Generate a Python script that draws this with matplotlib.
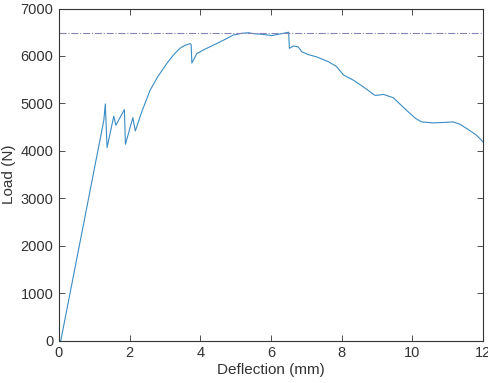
import numpy as np
import matplotlib
matplotlib.use('Agg')
import matplotlib.pyplot as plt

plt.rcParams['font.family'] = ['Liberation Sans', 'DejaVu Sans']

# load-deflection readings
deflection = [0.0, 0.05, 1.27, 1.31, 1.36, 1.55, 1.61, 1.85, 1.88, 2.09, 2.16,
              2.35, 2.58, 2.80, 3.05, 3.25, 3.42, 3.55, 3.71, 3.74, 3.76, 3.90,
              4.15, 4.46, 4.70, 4.93, 5.15, 5.36, 5.50, 5.75, 6.02, 6.30, 6.50,
              6.52, 6.63, 6.77, 6.87, 7.05, 7.29, 7.62, 7.85, 8.05, 8.33, 8.61,
              8.94, 9.05, 9.18, 9.46, 9.70, 9.93, 10.10, 10.26, 10.60, 10.90,
              11.16, 11.35, 11.54, 11.80, 12.0]
load = [0, 0, 4650, 4990, 4070, 4730, 4540, 4870, 4140, 4700, 4420,
        4840, 5280, 5570, 5840, 6030, 6160, 6220, 6260, 6240, 5850, 6050,
        6150, 6260, 6350, 6440, 6475, 6490, 6470, 6455, 6430, 6470, 6500,
        6160, 6210, 6190, 6090, 6030, 5980, 5880, 5780, 5600, 5490, 5350,
        5170, 5175, 5190, 5120, 4950, 4790, 4680, 4610, 4590, 4600,
        4610, 4560, 4470, 4340, 4190]
peak_load = 6490

fig = plt.figure(figsize=(4.88, 3.83), dpi=100)
ax = fig.add_axes([0.1209, 0.1104, 0.8689, 0.8674])

ax.plot(deflection, load, color='#3a8cc4', linewidth=0.8)
ax.axhline(peak_load, color='#8585b5', linewidth=0.8, linestyle='-.')

ax.set_xlim(0, 12)
ax.set_ylim(0, 7000)
ax.set_xticks(np.arange(0, 13, 2))
ax.set_yticks(np.arange(0, 7001, 1000))
ax.set_xlabel('Deflection (mm)', fontsize=11, color='#333333', labelpad=2)
ax.set_ylabel('Load (N)', fontsize=11, color='#333333', labelpad=3)
ax.tick_params(direction='in', length=4, width=0.6, top=True, right=True,
               labelsize=10.5, colors='#333333', pad=4)
for s in ax.spines.values():
    s.set_color('#333333')
    s.set_linewidth(0.8)

fig.savefig('out.png', dpi=100)
